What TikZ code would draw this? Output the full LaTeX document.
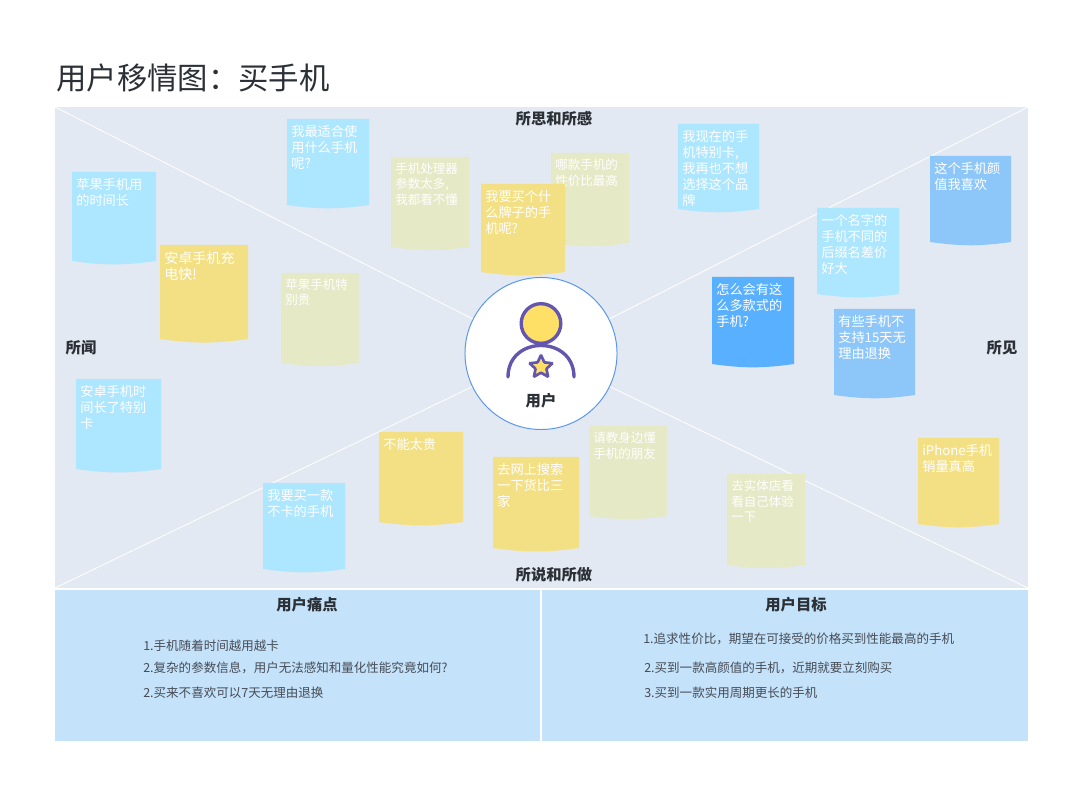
\documentclass[tikz,border=0pt]{standalone}
\usepackage{fontspec}
\setmainfont{Noto Sans CJK SC}
\usepackage{xcolor}
\usetikzlibrary{calc, shapes.geometric, positioning}

\definecolor{mapbg}{HTML}{E2E9F2}
\definecolor{panelbg}{HTML}{C4E2FA}
\definecolor{noteblue}{HTML}{ADE6FF}
\definecolor{notemid}{HTML}{8DC7FA}
\definecolor{notedeep}{HTML}{58B0FF}
\definecolor{noteyellow}{HTML}{F3DF84}
\definecolor{notegreen}{HTML}{E5E9C6}
\definecolor{ringblue}{HTML}{5B96EE}
\definecolor{personpurple}{HTML}{6455AE}
\definecolor{headyellow}{HTML}{FFE066}
\definecolor{labeldark}{HTML}{2B2F36}
\definecolor{listgrey}{HTML}{474C55}

\tikzset{
    notesag/.style={bend left=8},
    notetext/.style={anchor=north west, align=left, text=white, inner xsep=0.1cm, inner ysep=0.15cm,
        font=\fontsize{9.4pt}{11.4pt}\selectfont},
    notesmall/.style={notetext, font=\fontsize{8.9pt}{10.8pt}\selectfont},
    notelarge/.style={notetext, font=\fontsize{10pt}{11.9pt}\selectfont},
    maplabel/.style={text=labeldark, font=\fontsize{10.9pt}{13pt}\selectfont\bfseries},
    listtext/.style={anchor=west, inner sep=0, text=listgrey, font=\fontsize{8.9pt}{11pt}\selectfont},
    personline/.style={draw=personpurple, line width=2.4pt, line cap=round},
    splitline/.style={white, line width=0.6pt}
}

\begin{document}
\begin{tikzpicture}[x=0.025cm, y=-0.025cm]
    \useasboundingbox (0,0) rectangle (1080,793);

    % 1. 标题和背景
    \node[anchor=west, inner sep=0, font=\fontsize{21.6pt}{26pt}\selectfont, text=labeldark] (title) at (56,78) {用户移情图：买手机};
    \fill[mapbg] (55,107) rectangle (1028,588);
    \fill[panelbg] (55,590) rectangle (540,741);
    \fill[panelbg] (542,590) rectangle (1028,741);

    % 2. 四条分隔线和中间的用户
    \coordinate (cornerTL) at (55,107);
    \coordinate (cornerTR) at (1028,107);
    \coordinate (cornerBL) at (55,588);
    \coordinate (cornerBR) at (1028,588);
    \node[circle, draw=ringblue, fill=white, line width=0.7pt, minimum size=3.8cm, inner sep=0] (user) at (541,353.5) {};
    \draw[splitline] (cornerTL) -- (user);
    \draw[splitline] (cornerTR) -- (user);
    \draw[splitline] (cornerBL) -- (user);
    \draw[splitline] (cornerBR) -- (user);

    \draw[personline] (508,377) .. controls (508,335) and (574,335) .. (574,377);
    \draw[personline, fill=headyellow] (541,323.5) circle (0.495cm);
    \node[star, star points=5, star point ratio=2.1, draw=personpurple, fill=headyellow, line width=1.9pt, rounded corners=0.5pt, minimum size=0.6cm, inner sep=0] (userstar) at (541,367) {};
    \node[maplabel] (username) at (541,401) {用户};

    % 3. 四个象限的标签
    \node[maplabel] (think) at (554,119) {所思和所感};
    \node[maplabel] (hear) at (81,348) {所闻};
    \node[maplabel] (see) at (1002,348) {所见};
    \node[maplabel] (say) at (554,575) {所说和所做};

    % 4. 所闻
    \fill[noteblue] (72,172) -- (156,172) -- (156,261) to[notesag] (72,261) -- cycle;
    \node[notetext] (applelife) at (72,172) {苹果手机用\\的时间长};
    \fill[noteyellow] (160,245) -- (248,245) -- (248,339) to[notesag] (160,339) -- cycle;
    \node[notelarge] (androidcharge) at (160,245) {安卓手机充\\电快!};
    \fill[notegreen] (281,273) -- (359,273) -- (359,363) to[notesag] (281,363) -- cycle;
    \node[notesmall] (appleprice) at (281,273) {苹果手机特\\别贵};
    \fill[noteblue] (76,379) -- (161,379) -- (161,469) to[notesag] (76,469) -- cycle;
    \node[notetext] (androidslow) at (76,379) {安卓手机时\\间长了特别\\卡};

    % 5. 所思和所感
    \fill[noteblue] (287,119) -- (369,119) -- (369,205) to[notesag] (287,205) -- cycle;
    \node[notetext] (whichfit) at (287,119) {我最适合使\\用什么手机\\呢?};
    \fill[notegreen] (391,157) -- (469,157) -- (469,247) to[notesag] (391,247) -- cycle;
    \node[notesmall] (toomany) at (391,157) {手机处理器\\参数太多,\\我都看不懂};
    \fill[notegreen] (551,153) -- (629,153) -- (629,243) to[notesag] (551,243) -- cycle;
    \node[notesmall] (bestvalue) at (551,153) {哪款手机的\\性价比最高};
    \fill[noteyellow] (481,184) -- (565,184) -- (565,272) to[notesag] (481,272) -- cycle;
    \node[notetext] (whichbrand) at (481,184) {我要买个什\\么牌子的手\\机呢?};
    \fill[noteblue] (678,124) -- (759,124) -- (759,209) to[notesag] (678,209) -- cycle;
    \node[notetext] (oldphone) at (678,124) {我现在的手\\机特别卡,\\我再也不想\\选择这个品\\牌};

    % 6. 所见
    \fill[notemid] (930,156) -- (1011,156) -- (1011,242) to[notesag] (930,242) -- cycle;
    \node[notetext] (looks) at (930,156) {这个手机颜\\值我喜欢};
    \fill[noteblue] (817,208) -- (899,208) -- (899,294) to[notesag] (817,294) -- cycle;
    \node[notetext] (suffix) at (817,208) {一个名字的\\手机不同的\\后缀名差价\\好大};
    \fill[notedeep] (712,277) -- (794,277) -- (794,364) to[notesag] (712,364) -- cycle;
    \node[notetext] (styles) at (712,277) {怎么会有这\\么多款式的\\手机?};
    \fill[notemid] (834,309) -- (915,309) -- (915,395) to[notesag] (834,395) -- cycle;
    \node[notetext] (refund) at (834,309) {有些手机不\\支持15天无\\理由退换};
    \fill[noteyellow] (918,438) -- (999,438) -- (999,524) to[notesag] (918,524) -- cycle;
    \node[notetext] (iphone) at (918,438) {iPhone手机\\销量真高};

    % 7. 所说和所做
    \fill[noteblue] (263,483) -- (345,483) -- (345,569) to[notesag] (263,569) -- cycle;
    \node[notetext] (nolag) at (263,483) {我要买一款\\不卡的手机};
    \fill[noteyellow] (379,432) -- (463,432) -- (463,522) to[notesag] (379,522) -- cycle;
    \node[notetext] (notdear) at (379,432) {不能太贵};
    \fill[noteyellow] (493,457) -- (579,457) -- (579,548) to[notesag] (493,548) -- cycle;
    \node[notetext] (online) at (493,457) {去网上搜索\\一下货比三\\家};
    \fill[notegreen] (589,426) -- (667,426) -- (667,516) to[notesag] (589,516) -- cycle;
    \node[notesmall] (friend) at (589,426) {请教身边懂\\手机的朋友};
    \fill[notegreen] (727,474) -- (805,474) -- (805,565) to[notesag] (727,565) -- cycle;
    \node[notesmall] (store) at (727,474) {去实体店看\\看自己体验\\一下};

    % 8. 用户痛点和用户目标
    \node[maplabel] (pains) at (307,605) {用户痛点};
    \node[listtext] (painA) at (143,646) {1.手机随着时间越用越卡};
    \node[listtext] (painB) at (143,668) {2.复杂的参数信息，用户无法感知和量化性能究竟如何?};
    \node[listtext] (painC) at (143,693) {2.买来不喜欢可以7天无理由退换};
    \node[maplabel] (goals) at (796,605) {用户目标};
    \node[listtext] (goalA) at (643,639) {1.追求性价比，期望在可接受的价格买到性能最高的手机};
    \node[listtext] (goalB) at (644,668) {2.买到一款高颜值的手机，近期就要立刻购买};
    \node[listtext] (goalC) at (644,693) {3.买到一款实用周期更长的手机};
\end{tikzpicture}
\end{document}
